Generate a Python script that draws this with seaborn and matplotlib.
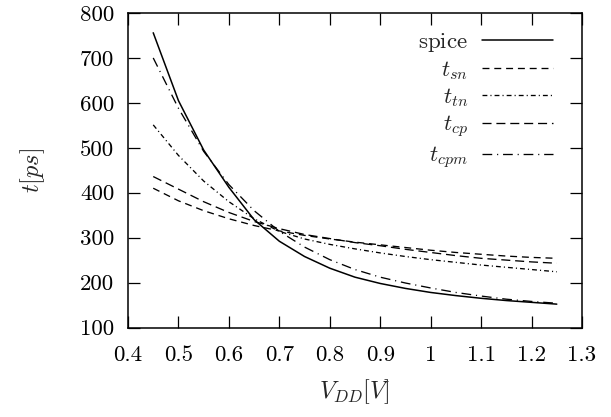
import numpy as np
import pandas as pd
import seaborn as sns
import matplotlib.pyplot as plt
from matplotlib.ticker import FuncFormatter, MultipleLocator

# supply voltage sweep [V]
vdd = [0.45, 0.50, 0.55, 0.60, 0.65, 0.70, 0.75, 0.80, 0.85, 0.90,
       0.95, 1.00, 1.05, 1.10, 1.15, 1.20, 1.25]

# delays [ps]
spice = [756, 605, 495, 412, 340, 292, 258, 232, 212, 198,
         187, 178, 171, 165, 160, 156, 152]
t_sn = [410, 382, 360, 342, 327, 315, 305, 297, 290, 284,
        278, 272, 267, 263, 259, 256, 254]
t_tn = [551, 483, 426, 380, 342, 314, 297, 285, 275, 266,
        258, 251, 245, 239, 234, 229, 224]
t_cp = [436, 408, 380, 356, 336, 320, 307, 298, 289, 282,
        274, 267, 260, 254, 250, 246, 243]
t_cpm = [700, 588, 492, 418, 360, 314, 279, 251, 229, 212,
         199, 188, 178, 170, 163, 158, 154]

series = ['spice', 't_sn', 't_tn', 't_cp', 't_cpm']
labels = [r'$\mathrm{spice}$', r'$t_{sn}$', r'$t_{tn}$', r'$t_{cp}$', r'$t_{cpm}$']

df = pd.DataFrame({'vdd': vdd, 'spice': spice, 't_sn': t_sn,
                   't_tn': t_tn, 't_cp': t_cp, 't_cpm': t_cpm})

sns.set_style('ticks')
plt.rcParams['font.family'] = ['cmr10', 'DejaVu Serif']
plt.rcParams['mathtext.fontset'] = 'cm'
plt.rcParams['axes.unicode_minus'] = False
plt.rcParams['axes.formatter.use_mathtext'] = True
plt.rcParams['lines.scale_dashes'] = False

# gnuplot-like line types
styles = {
    'spice': '-',
    't_sn': (0, (5, 3.5)),
    't_tn': (0, (3.5, 2.2, 0.8, 2.2)),
    't_cp': (0, (6.5, 3.5)),
    't_cpm': (0, (7, 3.5, 0.8, 3.5)),
}
widths = {'spice': 1.1, 't_sn': 0.95, 't_tn': 0.95, 't_cp': 0.95, 't_cpm': 0.95}

fig = plt.figure(figsize=(6.11, 4.17), dpi=100)
ax = fig.add_axes([128 / 611, 1 - 327.5 / 417, (582 - 128) / 611, (327.5 - 13) / 417])

for name, lab in zip(series, labels):
    sns.lineplot(data=df, x='vdd', y=name, ax=ax, color='black',
                 linestyle=styles[name], linewidth=widths[name], label=lab)

ax.set_xlim(0.4, 1.3)
ax.set_ylim(100, 800)
ax.xaxis.set_major_locator(MultipleLocator(0.1))
ax.yaxis.set_major_locator(MultipleLocator(100))
ax.xaxis.set_major_formatter(FuncFormatter(lambda v, p: '%g' % round(v, 2)))
ax.yaxis.set_major_formatter(FuncFormatter(lambda v, p: '%d' % v))

ax.tick_params(direction='in', top=True, right=True, length=8.5, width=0.9,
               labelsize=16.5, colors='black')
ax.tick_params(axis='x', pad=13)
ax.tick_params(axis='y', pad=10)
for s in ax.spines.values():
    s.set_linewidth(1.1)
    s.set_color('black')

ax.set_xlabel(r'$V_{DD}[V]$', fontsize=17.5, labelpad=9)
ax.set_ylabel(r'$t[ps]$', fontsize=17.5, labelpad=24)

leg = ax.legend(loc='upper right', bbox_to_anchor=(0.976, 1.0), frameon=False,
                markerfirst=False, fontsize=16.5, handlelength=3.1,
                handletextpad=0.6, labelspacing=0.2, borderaxespad=0.5,
                borderpad=0.3)

fig.savefig('out.png', dpi=100)
